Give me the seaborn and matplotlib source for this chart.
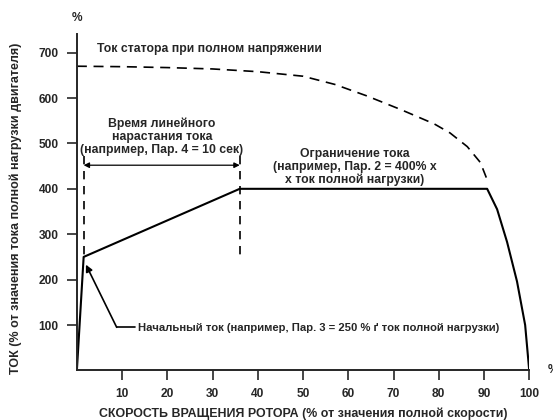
import matplotlib
matplotlib.use("Agg")
import matplotlib.pyplot as plt
import seaborn as sns
import pandas as pd

# motor current with soft start limiting (solid) and stator current at full voltage (dashed)
speed_limit = [0, 1.5, 36, 90.7, 92.9, 95.1, 97.3, 99.1, 100]
current_limit = [0, 250, 400, 400, 355, 283, 196, 100, 0]

speed_stator = [0, 10, 20, 30, 40, 50, 57, 64, 71.5, 79, 82.5, 86.3, 89.2, 90.7]
current_stator = [670, 669, 667, 664, 658, 648, 630, 605, 575, 543, 523, 493, 458, 420]

x_ticks = [10, 20, 30, 40, 50, 60, 70, 80, 90, 100]
y_ticks = [100, 200, 300, 400, 500, 600, 700]

ramp_start, ramp_end = 1.5, 36

sns.set_style("ticks")
plt.rcParams["font.family"] = ["Liberation Sans", "DejaVu Sans"]
plt.rcParams["font.weight"] = "bold"

fig = plt.figure(figsize=(5.53, 4.2), dpi=100)
ax = fig.add_axes([0.139, 0.118, 0.818, 0.80])

df_limit = pd.DataFrame({"speed": speed_limit, "current": current_limit})
df_stator = pd.DataFrame({"speed": speed_stator, "current": current_stator})

sns.lineplot(data=df_limit, x="speed", y="current", ax=ax, color="black",
             lw=1.5, sort=False, estimator=None)
sns.lineplot(data=df_stator, x="speed", y="current", ax=ax, color="black",
             lw=1.2, sort=False, estimator=None, dashes=False)
ax.lines[-1].set_dashes([6, 4])

# ramp time markers
ax.plot([ramp_start, ramp_start], [472, 250], color="black", lw=1.2, dashes=[5, 4])
ax.plot([ramp_end, ramp_end], [472, 253], color="black", lw=1.2, dashes=[5, 4])
ax.annotate("", xy=(ramp_start, 452), xytext=(ramp_end, 452),
            arrowprops=dict(arrowstyle="<|-|>", color="black", lw=0.9,
                            mutation_scale=8, shrinkA=0, shrinkB=0))

fs = 8.8
ax.text(4.4, 707, "Ток статора при полном напряжении", fontsize=fs,
        fontweight="bold", ha="left", va="center")
ax.text(18.8, 515, "Время линейного\nнарастания тока\n(например, Пар. 4 = 10 сек)",
        fontsize=fs, fontweight="bold", ha="center", va="center", linespacing=1.1)
ax.text(61.5, 448, "Ограничение тока\n(например, Пар. 2 = 400% х\nх ток полной нагрузки)",
        fontsize=fs, fontweight="bold", ha="center", va="center", linespacing=1.1)
ax.text(13.6, 94, "Начальный ток (например, Пар. 3 = 250 % ґ ток полной нагрузки)",
        fontsize=8.15, fontweight="bold", ha="left", va="center")
ax.plot([8.8, 12.8], [95, 95], color="black", lw=1.2)
ax.annotate("", xy=(2.0, 233), xytext=(8.8, 95),
            arrowprops=dict(arrowstyle="-|>", color="black", lw=1.2,
                            mutation_scale=10, shrinkA=0, shrinkB=0))

ax.set_xlim(0, 100)
ax.set_ylim(0, 740)
ax.set_xticks(x_ticks)
ax.set_yticks(y_ticks)
ax.tick_params(labelsize=8.6, length=7, width=1.2, pad=6)
for lab in ax.get_xticklabels() + ax.get_yticklabels():
    lab.set_fontweight("bold")
for s in ["left", "bottom"]:
    ax.spines[s].set_linewidth(1.4)
sns.despine(ax=ax)

ax.set_xlabel("СКОРОСТЬ ВРАЩЕНИЯ РОТОРА (% от значения полной скорости)",
              fontsize=8.9, fontweight="bold", labelpad=5)
ax.set_ylabel("ТОК (% от значения тока полной нагрузки двигателя)",
              fontsize=9.0, fontweight="bold")
ax.yaxis.set_label_coords(-0.122, 0.484)

fig.text(0.139, 0.957, "%", fontsize=8.6, fontweight="bold", ha="center", va="center")
fig.text(0.99, 0.12, "%", fontsize=8.6, fontweight="bold", ha="left", va="center")

fig.savefig("out.png", dpi=100)
